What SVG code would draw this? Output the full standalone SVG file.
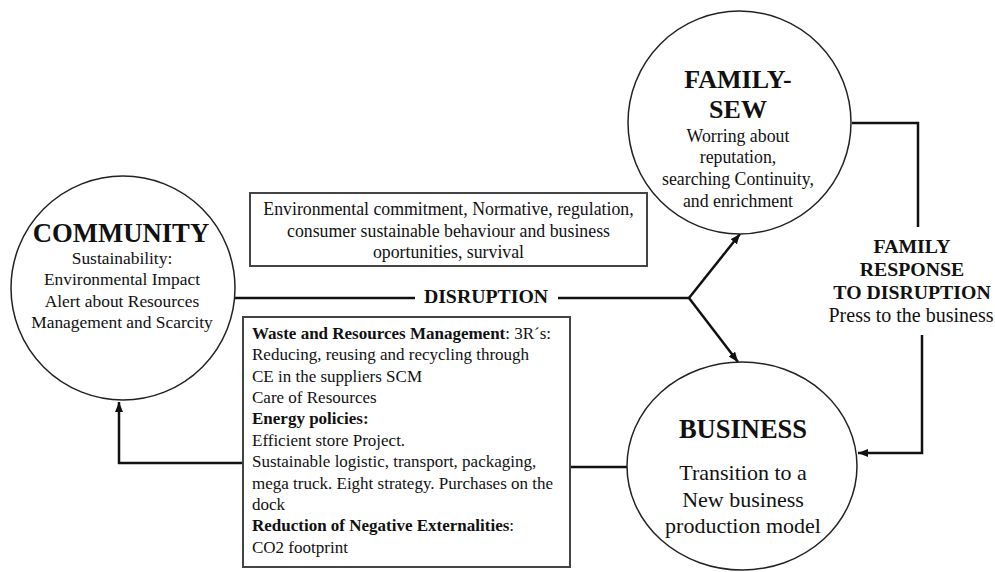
<svg xmlns="http://www.w3.org/2000/svg" width="995" height="572" viewBox="0 0 995 572">
<style>
text{font-family:"Liberation Serif","Times New Roman",serif;fill:#111}
.c{text-anchor:middle}
.b{font-weight:bold}
.shape{fill:#fff;stroke:#222;stroke-width:1.5}
.box{fill:#fff;stroke:#444;stroke-width:2}
.ln{fill:none;stroke:#111;stroke-width:2.5}
.s17{font-size:17px}
.s18{font-size:17.8px}
</style>
<defs>
<marker id="ah" viewBox="0 0 10 8" refX="10" refY="4" markerWidth="10" markerHeight="8" markerUnits="userSpaceOnUse" orient="auto">
<path d="M0,0 L10,4 L0,8 Z" fill="#111"/>
</marker>
</defs>
<g id="connectors">
<path class="ln" d="M234,298 H415"/>
<path class="ln" d="M558,298 H689"/>
<path class="ln" d="M689,298 L740,234" marker-end="url(#ah)"/>
<path class="ln" d="M689,298 L738,362" marker-end="url(#ah)"/>
<path class="ln" d="M852,123 H918 V227"/>
<path class="ln" d="M922,335 V453 H858" marker-end="url(#ah)"/>
<path class="ln" d="M243,463 H119 V402" marker-end="url(#ah)"/>
<path class="ln" d="M570,467 H628"/>
</g>
<g id="community">
<circle class="shape" cx="123" cy="288" r="112"/>
<text class="c b" x="121" y="242" font-size="26.7">COMMUNITY</text>
<text class="c" x="122" y="264" font-size="17.4">Sustainability:</text>
<text class="c" x="122" y="285" font-size="17.4">Environmental Impact</text>
<text class="c" x="122" y="307" font-size="17.4">Alert about Resources</text>
<text class="c" x="122" y="328" font-size="17.4">Management and Scarcity</text>
</g>
<g id="family-sew">
<circle class="shape" cx="739.5" cy="122.5" r="111.5"/>
<text class="c b" x="738" y="88" font-size="26">FAMILY-</text>
<text class="c b" x="738" y="118" font-size="26">SEW</text>
<text class="c s18" x="738" y="142">Worring about</text>
<text class="c s18" x="738" y="163">reputation,</text>
<text class="c s18" x="738" y="185">searching Continuity,</text>
<text class="c s18" x="738" y="207">and enrichment</text>
</g>
<g id="business">
<ellipse class="shape" cx="742" cy="466" rx="115" ry="104"/>
<text class="c b" x="743" y="438" font-size="26.5">BUSINESS</text>
<text class="c" x="743" y="480" font-size="22">Transition to a</text>
<text class="c" x="743" y="507" font-size="22">New business</text>
<text class="c" x="743" y="533" font-size="22">production model</text>
</g>
<g id="drivers-box">
<rect class="box" x="250" y="193" width="397" height="73"/>
<text class="c s18" x="448.5" y="215">Environmental commitment, Normative, regulation,</text>
<text class="c s18" x="448.5" y="237">consumer sustainable behaviour and business</text>
<text class="c s18" x="448.5" y="258">oportunities, survival</text>
</g>
<g id="disruption-label">
<text class="c b" x="486" y="303" font-size="19.8">DISRUPTION</text>
</g>
<g id="family-response">
<text class="c b" x="912" y="253" font-size="19.8">FAMILY</text>
<text class="c b" x="912" y="276" font-size="19.8">RESPONSE</text>
<text class="c b" x="912" y="299" font-size="19.8">TO DISRUPTION</text>
<text class="c" x="911" y="322" font-size="20">Press to the business</text>
</g>
<g id="actions-box">
<rect class="box" x="243" y="317" width="327" height="250"/>
<text class="s17" x="252" y="339"><tspan class="b">Waste and Resources Management</tspan>: 3R´s:</text>
<text class="s17" x="252" y="360">Reducing, reusing and recycling through</text>
<text class="s17" x="252" y="382">CE in the suppliers SCM</text>
<text class="s17" x="252" y="403">Care of Resources</text>
<text class="s17 b" x="252" y="424">Energy policies:</text>
<text class="s17" x="252" y="446">Efficient store Project.</text>
<text class="s17" x="252" y="467">Sustainable logistic, transport, packaging,</text>
<text class="s17" x="252" y="489">mega truck. Eight strategy. Purchases on the</text>
<text class="s17" x="252" y="510">dock</text>
<text class="s17" x="252" y="531"><tspan class="b">Reduction of Negative Externalities</tspan>:</text>
<text class="s17" x="252" y="553">CO2 footprint</text>
</g>
</svg>
